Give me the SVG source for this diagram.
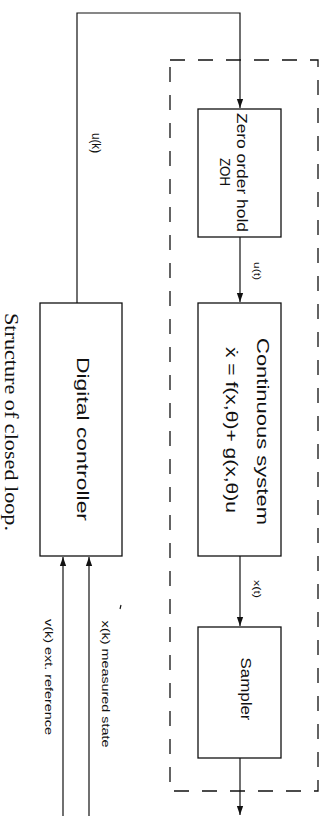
<svg xmlns="http://www.w3.org/2000/svg" width="325" height="816" viewBox="0 0 325 816">
<style>
.box{fill:#fff;stroke:#111;stroke-width:1.3}
.ln{fill:none;stroke:#111;stroke-width:1.2}
.dash{fill:none;stroke:#111;stroke-width:1.3;stroke-dasharray:15 13}
.t{font-family:"Liberation Sans",Arial,sans-serif;fill:#111;text-anchor:middle}
.cap{font-family:"Liberation Serif","Times New Roman",serif;fill:#111;text-anchor:middle}
</style>
<defs>
<marker id="ah" viewBox="0 0 10 10" refX="10" refY="5" markerWidth="9" markerHeight="9" markerUnits="userSpaceOnUse" orient="auto">
<path d="M0,1.5 L10,5 L0,8.5 Z" fill="#111"/>
</marker>
</defs>
<rect class="dash" x="170" y="60" width="148" height="731"/>
<g id="connectors">
<path class="ln" d="M77,303 V13 H240 V108" marker-end="url(#ah)"/>
<path class="ln" d="M240,237 V302" marker-end="url(#ah)"/>
<path class="ln" d="M240,556 V626" marker-end="url(#ah)"/>
<path class="ln" d="M240,758 V815" marker-end="url(#ah)"/>
<path class="ln" d="M63,816 V557" marker-end="url(#ah)"/>
<path class="ln" d="M89,816 V557" marker-end="url(#ah)"/>
<text class="t" font-size="12" textLength="20" lengthAdjust="spacingAndGlyphs" transform="translate(92,143) rotate(90)">u(k)</text>
<text class="t" font-size="9" textLength="18" lengthAdjust="spacingAndGlyphs" transform="translate(254,271) rotate(90)">u(t)</text>
<text class="t" font-size="9" textLength="18" lengthAdjust="spacingAndGlyphs" transform="translate(254,589) rotate(90)">x(t)</text>
<text class="t" font-size="11" textLength="127" lengthAdjust="spacingAndGlyphs" transform="translate(102,684) rotate(90)">x(k) measured state</text>
<text class="t" font-size="10" textLength="116" lengthAdjust="spacingAndGlyphs" transform="translate(45,677) rotate(90)">v(k) ext. reference</text>
</g>
<g id="zoh">
<rect class="box" x="198" y="109" width="83" height="128"/>
<text class="t" font-size="14" textLength="119" lengthAdjust="spacingAndGlyphs" transform="translate(237,172.5) rotate(90)">Zero order hold</text>
<text class="t" font-size="14" textLength="28" lengthAdjust="spacingAndGlyphs" transform="translate(220,172) rotate(90)">ZOH</text>
</g>
<g id="continuous">
<rect class="box" x="198" y="303" width="83" height="253"/>
<text class="t" font-size="17" textLength="187" lengthAdjust="spacingAndGlyphs" transform="translate(257,431.5) rotate(90)">Continuous system</text>
<text class="t" font-size="17" textLength="166" lengthAdjust="spacingAndGlyphs" transform="translate(226,430) rotate(90)">ẋ = f(x,θ)+ g(x,θ)u</text>
</g>
<g id="sampler">
<rect class="box" x="198" y="627" width="83" height="131"/>
<text class="t" font-size="15" textLength="63" lengthAdjust="spacingAndGlyphs" transform="translate(241,689) rotate(90)">Sampler</text>
</g>
<g id="controller">
<rect class="box" x="40" y="303" width="82" height="253"/>
<text class="t" font-size="16" textLength="164" lengthAdjust="spacingAndGlyphs" transform="translate(77,439) rotate(90)">Digital controller</text>
</g>
<path class="ln" d="M121,605 L120,609" stroke-width="1"/>
<text class="cap" font-size="19" textLength="218" lengthAdjust="spacingAndGlyphs" transform="translate(5,422) rotate(90)">Structure of closed loop.</text>
</svg>
